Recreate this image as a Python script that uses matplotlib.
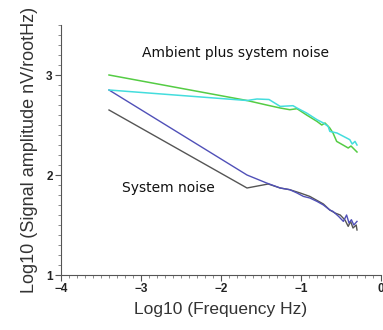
import matplotlib
matplotlib.use('Agg')
import matplotlib.pyplot as plt
from matplotlib.ticker import MultipleLocator

# values (log10 frequency, log10 amplitude)
green_x = [-3.4, -1.675, -1.43, -1.26, -1.14, -1.05, -0.93, -0.80, -0.74, -0.70,
           -0.64, -0.60, -0.554, -0.475, -0.41, -0.375, -0.325, -0.30]
green_y = [3.00, 2.745, 2.70, 2.67, 2.653, 2.663, 2.60, 2.536, 2.50, 2.52,
           2.47, 2.42, 2.336, 2.30, 2.27, 2.29, 2.25, 2.23]

cyan_x = [-3.4, -1.675, -1.55, -1.4, -1.26, -1.10, -1.05, -0.93, -0.80, -0.72,
          -0.66, -0.64, -0.55, -0.43, -0.39, -0.36, -0.325, -0.30]
cyan_y = [2.85, 2.745, 2.76, 2.755, 2.686, 2.693, 2.67, 2.62, 2.553, 2.52,
          2.486, 2.436, 2.42, 2.37, 2.353, 2.31, 2.336, 2.30]

blue_x = [-3.4, -1.675, -1.43, -1.26, -1.14, -1.05, -0.97, -0.89, -0.80, -0.72,
          -0.64, -0.60, -0.53, -0.47, -0.43, -0.40, -0.37, -0.34, -0.30]
blue_y = [2.85, 2.0, 1.92, 1.87, 1.853, 1.82, 1.786, 1.77, 1.736, 1.70,
          1.65, 1.636, 1.586, 1.536, 1.60, 1.52, 1.553, 1.50, 1.536]

gray_x = [-3.4, -1.675, -1.41, -1.26, -1.14, -1.01, -0.89, -0.72, -0.64, -0.575,
          -0.51, -0.45, -0.41, -0.38, -0.35, -0.31, -0.30]
gray_y = [2.65, 1.87, 1.91, 1.87, 1.853, 1.82, 1.786, 1.71, 1.65, 1.62,
          1.60, 1.55, 1.486, 1.536, 1.47, 1.50, 1.45]

fig = plt.figure(figsize=(3.83, 3.30), dpi=100)
ax = fig.add_axes([61 / 383, 55 / 330, 320 / 383, 250 / 330])

ax.plot(gray_x, gray_y, color='#555555', lw=1.0)
ax.plot(blue_x, blue_y, color='#5050b8', lw=1.0)
ax.plot(green_x, green_y, color='#55cc44', lw=1.1)
ax.plot(cyan_x, cyan_y, color='#44dddd', lw=1.1)

ax.text(-2.99, 3.22, 'Ambient plus system noise', fontsize=10, color='#111111',
        family='DejaVu Sans', va='center')
ax.text(-3.24, 1.87, 'System noise', fontsize=10, color='#111111',
        family='DejaVu Sans', va='center')

ax.set_xlim(-4, 0)
ax.set_ylim(1, 3.5)
ax.xaxis.set_major_locator(MultipleLocator(1))
ax.xaxis.set_minor_locator(MultipleLocator(0.1))
ax.yaxis.set_major_locator(MultipleLocator(1))
ax.yaxis.set_minor_locator(MultipleLocator(0.1))

for s in ['top', 'right']:
    ax.spines[s].set_visible(False)
for s in ['left', 'bottom']:
    ax.spines[s].set_color('#555555')
    ax.spines[s].set_linewidth(0.8)

ax.tick_params(which='major', direction='out', length=4, width=0.8,
               color='#555555', labelsize=8.5, pad=2)
ax.tick_params(which='minor', direction='out', length=2, width=0.6, color='#777777')
for lab in ax.get_xticklabels() + ax.get_yticklabels():
    lab.set_fontweight('bold')
    lab.set_family('Liberation Sans')
    lab.set_color('#222222')

ax.set_xlabel('Log10 (Frequency Hz)', fontsize=12.5, family='Liberation Sans',
              color='#333333', labelpad=5)
ax.set_ylabel('Log10 (Signal amplitude nV/rootHz)', fontsize=13,
              family='Liberation Sans', color='#333333', labelpad=6)

fig.savefig('out.png', dpi=100)
